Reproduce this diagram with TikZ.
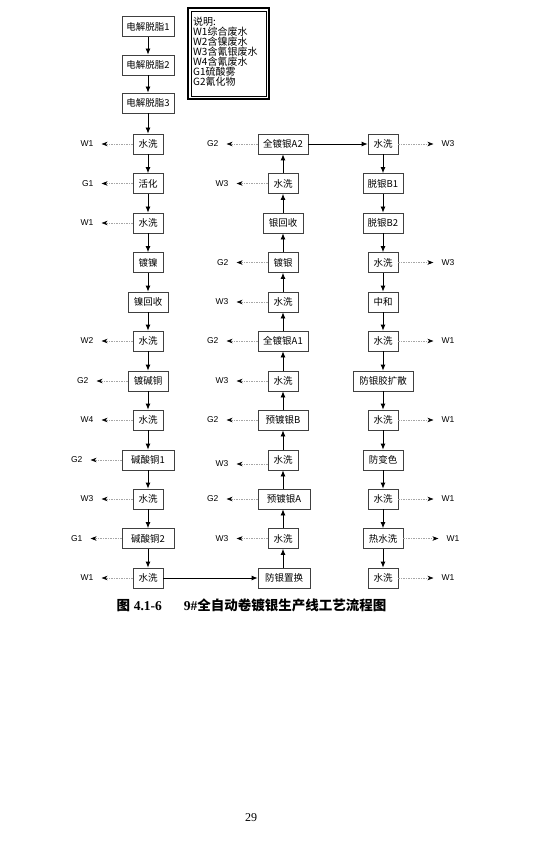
\documentclass[tikz,border=0pt]{standalone}
\usepackage{fontspec}
\setmainfont{Liberation Sans}
\newfontfamily\cjk{Noto Sans CJK SC}
\newfontfamily\capfont{Liberation Serif}
\usetikzlibrary{arrows.meta,positioning}

\begin{document}
\begin{tikzpicture}[x=1pt,y=-1pt,
  box/.style={draw=black!75,line width=0.8pt,minimum width=30pt,minimum height=20pt,inner xsep=4pt,font=\cjk\fontsize{9.5}{10}\selectfont},
  tag/.style={inner sep=0pt,font=\fontsize{8.5}{9}\selectfont},
  flow/.style={line width=0.8pt,-{Latex[length=6pt,width=5pt]}},
  loss/.style={draw=gray!70,line width=0.5pt,dash pattern=on 1.5pt off 1pt,shorten >=8pt,-{Stealth[color=black,length=6pt,width=4.5pt]}}]
\useasboundingbox (0,0) rectangle (540,842);

\node (a1) at (148,26.5) [box,minimum width=52pt] {电解脱脂1};
\node (a2) at (148,65) [box,minimum width=52pt] {电解脱脂2};
\node (a3) at (148,103) [box,minimum width=52pt] {电解脱脂3};
\node (a4) at (148,144) [box] {水洗};
\node (a5) at (148,183.5) [box] {活化};
\node (a6) at (148,223) [box] {水洗};
\node (a7) at (148,262.5) [box] {镀镍};
\node (a8) at (148,302) [box,minimum width=40pt] {镍回收};
\node (a9) at (148,341) [box] {水洗};
\node (a10) at (148,381) [box,minimum width=40pt] {镀碱铜};
\node (a11) at (148,420) [box] {水洗};
\node (a12) at (148,460) [box,minimum width=52pt] {碱酸铜1};
\node (a13) at (148,499) [box] {水洗};
\node (a14) at (148,538.5) [box,minimum width=52pt] {碱酸铜2};
\node (a15) at (148,578) [box] {水洗};

\node (b1) at (284,578) [box,minimum width=52pt] {防银置换};
\node (b2) at (283,538.5) [box] {水洗};
\node (b3) at (284,499) [box,minimum width=52pt] {预镀银A};
\node (b4) at (283,460) [box] {水洗};
\node (b5) at (283,420) [box,minimum width=50pt] {预镀银B};
\node (b6) at (283,381) [box] {水洗};
\node (b7) at (283,341) [box,minimum width=50pt] {全镀银A1};
\node (b8) at (283,302) [box] {水洗};
\node (b9) at (283,262.5) [box] {镀银};
\node (b10) at (283,223) [box,minimum width=40pt] {银回收};
\node (b11) at (283,183.5) [box] {水洗};
\node (b12) at (283,144) [box,minimum width=50pt] {全镀银A2};

\node (c1) at (383,144) [box] {水洗};
\node (c2) at (383,183.5) [box,minimum width=40pt] {脱银B1};
\node (c3) at (383,223) [box,minimum width=40pt] {脱银B2};
\node (c4) at (383,262.5) [box] {水洗};
\node (c5) at (383,302) [box] {中和};
\node (c6) at (383,341) [box] {水洗};
\node (c7) at (383,381) [box,minimum width=60pt] {防银胶扩散};
\node (c8) at (383,420) [box] {水洗};
\node (c9) at (383,460) [box,minimum width=40pt] {防变色};
\node (c10) at (383,499) [box] {水洗};
\node (c11) at (383,538.5) [box,minimum width=40pt] {热水洗};
\node (c12) at (383,578) [box] {水洗};

\node (la4) [tag,left=39pt of a4] {W1};
\node (la5) [tag,left=39pt of a5] {G1};
\node (la6) [tag,left=39pt of a6] {W1};
\node (la9) [tag,left=39pt of a9] {W2};
\node (la10) [tag,left=39pt of a10] {G2};
\node (la11) [tag,left=39pt of a11] {W4};
\node (la12) [tag,left=39pt of a12] {G2};
\node (la13) [tag,left=39pt of a13] {W3};
\node (la14) [tag,left=39pt of a14] {G1};
\node (la15) [tag,left=39pt of a15] {W1};

\node (lb2) [tag,left=39pt of b2] {W3};
\node (lb3) [tag,left=39pt of b3] {G2};
\node (lb4) [tag,left=39pt of b4,yshift=-4pt] {W3};
\node (lb5) [tag,left=39pt of b5] {G2};
\node (lb6) [tag,left=39pt of b6] {W3};
\node (lb7) [tag,left=39pt of b7] {G2};
\node (lb8) [tag,left=39pt of b8] {W3};
\node (lb9) [tag,left=39pt of b9] {G2};
\node (lb11) [tag,left=39pt of b11] {W3};
\node (lb12) [tag,left=39pt of b12] {G2};

\node (lc1) [tag,right=43pt of c1] {W3};
\node (lc4) [tag,right=43pt of c4] {W3};
\node (lc6) [tag,right=43pt of c6] {W1};
\node (lc8) [tag,right=43pt of c8] {W1};
\node (lc10) [tag,right=43pt of c10] {W1};
\node (lc11) [tag,right=43pt of c11] {W1};
\node (lc12) [tag,right=43pt of c12] {W1};

\draw[line width=1.2pt] (188,8) rectangle (269,99);
\draw[line width=0.5pt] (191,11) rectangle (266,96);
\node (key) at (193,17) [anchor=north west,inner sep=0pt,align=left,font=\cjk\fontsize{10}{10}\selectfont] {说明:\\W1综合废水\\W2含镍废水\\W3含氰银废水\\W4含氰废水\\G1硫酸雾\\G2氰化物};

\draw[flow] (a1) -- (a2);
\draw[flow] (a2) -- (a3);
\draw[flow] (a3) -- (a4);
\draw[flow] (a4) -- (a5);
\draw[flow] (a5) -- (a6);
\draw[flow] (a6) -- (a7);
\draw[flow] (a7) -- (a8);
\draw[flow] (a8) -- (a9);
\draw[flow] (a9) -- (a10);
\draw[flow] (a10) -- (a11);
\draw[flow] (a11) -- (a12);
\draw[flow] (a12) -- (a13);
\draw[flow] (a13) -- (a14);
\draw[flow] (a14) -- (a15);
\draw[flow] (a15) -- (b1);
\draw[flow] (b1.north -| b2) -- (b2);
\draw[flow] (b2) -- (b3.south -| b2);
\draw[flow] (b3.north -| b4) -- (b4);
\draw[flow] (b4) -- (b5);
\draw[flow] (b5) -- (b6);
\draw[flow] (b6) -- (b7);
\draw[flow] (b7) -- (b8);
\draw[flow] (b8) -- (b9);
\draw[flow] (b9) -- (b10);
\draw[flow] (b10) -- (b11);
\draw[flow] (b11) -- (b12);
\draw[flow] (b12) -- (c1);
\draw[flow] (c1) -- (c2);
\draw[flow] (c2) -- (c3);
\draw[flow] (c3) -- (c4);
\draw[flow] (c4) -- (c5);
\draw[flow] (c5) -- (c6);
\draw[flow] (c6) -- (c7);
\draw[flow] (c7) -- (c8);
\draw[flow] (c8) -- (c9);
\draw[flow] (c9) -- (c10);
\draw[flow] (c10) -- (c11);
\draw[flow] (c11) -- (c12);

\draw[loss] (a4) -- (la4);
\draw[loss] (a5) -- (la5);
\draw[loss] (a6) -- (la6);
\draw[loss] (a9) -- (la9);
\draw[loss] (a10) -- (la10);
\draw[loss] (a11) -- (la11);
\draw[loss] (a12) -- (la12);
\draw[loss] (a13) -- (la13);
\draw[loss] (a14) -- (la14);
\draw[loss] (a15) -- (la15);
\draw[loss] (b2) -- (lb2);
\draw[loss] (b3) -- (lb3);
\draw[loss] (b4.west |- lb4) -- (lb4);
\draw[loss] (b5) -- (lb5);
\draw[loss] (b6) -- (lb6);
\draw[loss] (b7) -- (lb7);
\draw[loss] (b8) -- (lb8);
\draw[loss] (b9) -- (lb9);
\draw[loss] (b11) -- (lb11);
\draw[loss] (b12) -- (lb12);
\draw[loss] (c1) -- (lc1);
\draw[loss] (c4) -- (lc4);
\draw[loss] (c6) -- (lc6);
\draw[loss] (c8) -- (lc8);
\draw[loss] (c10) -- (lc10);
\draw[loss] (c11) -- (lc11);
\draw[loss] (c12) -- (lc12);

\node (cap) at (251.5,605) [font=\fontsize{13.5}{15}\selectfont] {{\cjk\bfseries 图} {\capfont\bfseries 4.1-6}\hspace{22pt}{\capfont\bfseries 9\#}{\cjk\bfseries 全自动卷镀银生产线工艺流程图}};
\node (pg) at (251,818) [font=\capfont\fontsize{12}{14}\selectfont] {29};
\end{tikzpicture}
\end{document}
